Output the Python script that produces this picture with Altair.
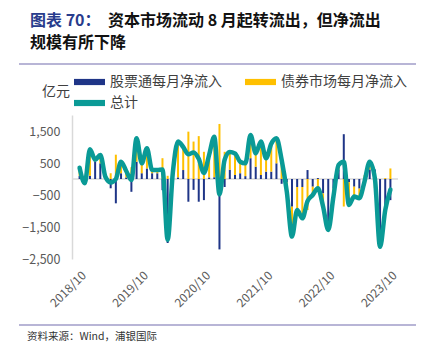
import altair as alt
import pandas as pd

FONT = "Noto Sans CJK SC"
NAVY = "#1F3587"
GOLD = "#FFC000"
TEAL = "#0A9A96"

STOCK = "股票通每月净流入"
BOND = "债券市场每月净流入"
TOTAL = "总计"

# monthly data, 2018/10 .. 2023/10 (61 months), 亿元
stock = [100, 40, 100, 550, 490, 30, -290, -760, 180, 50,
         -400, 540, 180, 330, 180, 180, -350, -2000, 0, 50,
         280, -710, -340, -710, -660, 50, 55, -2200, -250, 290,
         125, 180, 90, 650, 385, 125, 230, 230, 490, -150,
         -100, -865, -250, -250, 280, -240, 30, -450, -1390, -300,
         300, 1400, -100, -240, -300, -200, 300, 300, -1600, -1000,
         -660]
bond = [250, -170, 830, 50, 260, 30, 180, 760, 360, 200,
        370, 730, 310, 630, 100, 100, 650, 100, 200, 1120,
        720, 1480, 1170, 1340, 850, 700, 1265, 1720, 850, 550,
        675, 360, 400, 725, 415, 1045, 420, 870, 780, 750,
        -300, -935, -720, -980, -970, -260, -320, -410, -200, -250,
        140, -860, -710, -310, -300, 120, 240, -280, -520, 30,
        330]
total = [350, -130, 930, 600, 750, 60, -110, 0, 540, 250,
         -30, 1270, 490, 960, 280, 280, 300, -1900, 200, 1170,
         1000, 770, 830, 630, 190, 750, 1320, -480, 600, 840,
         800, 540, 490, 1375, 800, 1170, 650, 1100, 1270, 600,
         -400, -1800, -970, -1230, -690, -500, -290, -860, -1590, -550,
         440, 540, -810, -550, -600, -80, 540, 20, -2120, -970,
         -330]
tick_labels = ["2018/10", "2019/10", "2020/10", "2021/10", "2022/10", "2023/10"]
tick_idx = [0, 12, 24, 36, 48, 60]
y_ticks = [-2500, -1500, -500, 500, 1500]

rows = []
for i, (s, b) in enumerate(zip(stock, bond)):
    rows.append({"i": i, "series": STOCK, "value": s, "ord": 0})
    rows.append({"i": i, "series": BOND, "value": b, "ord": 1})
bars_df = pd.DataFrame(rows)
line_df = pd.DataFrame({"i": list(range(len(total))), "total": total})
dummy = pd.DataFrame({"a": [0]})

W, H = 326, 144
xscale = alt.Scale(domain=[-0.5, 60.5], nice=False, zero=False)
yscale = alt.Scale(domain=[-2500, 2000], nice=False, zero=False)

label_expr = "[" + ",".join("'%s'" % t for t in tick_labels) + "][round(datum.value/12)]"

XAXIS = alt.Axis(
    values=tick_idx, labelExpr=label_expr, labelAngle=-45, labelAlign="right",
    labelBaseline="middle", domain=False, ticks=False, grid=False, title=None,
    labelFont=FONT, labelFontSize=12, labelColor="#595959", labelPadding=14,
    labelOffset=4)
YAXIS = alt.Axis(
    values=y_ticks, format=",.0f", grid=False, ticks=False, title=None,
    domainColor="#D9D9D9", domainWidth=1.5, labelFont=FONT, labelFontSize=12.5,
    labelColor="#595959", labelPadding=12)

zero = alt.Chart(pd.DataFrame({"z": [0]})).mark_rule(color="#D9D9D9", strokeWidth=1.5).encode(
    y=alt.Y("z:Q", scale=yscale, axis=YAXIS, title=None)
)

bars = alt.Chart(bars_df).mark_bar(size=2).encode(
    x=alt.X("i:Q", scale=xscale, axis=XAXIS, title=None),
    y=alt.Y("value:Q", stack="zero", scale=yscale, axis=YAXIS, title=None),
    color=alt.Color("series:N", scale=alt.Scale(domain=[STOCK, BOND, TOTAL], range=[NAVY, GOLD, TEAL]),
                    legend=alt.Legend(orient="none", legendX=2, legendY=-41, columns=2,
                                      direction="horizontal",
                                      columnPadding=23, rowPadding=5, clipHeight=16,
                                      symbolType="M-1,-0.2H1V0.2H-1Z", symbolSize=961,
                                      symbolStrokeWidth=0, labelFont=FONT, labelFontSize=14,
                                      labelColor="#404040", labelOffset=5, labelLimit=220,
                                      title=None, padding=0)),
    order=alt.Order("ord:Q"),
)

line = alt.Chart(line_df).mark_line(color=TEAL, strokeWidth=4.5, interpolate="monotone",
                                    strokeCap="round", strokeJoin="round").encode(
    x=alt.X("i:Q", scale=xscale, axis=XAXIS, title=None),
    y=alt.Y("total:Q", scale=yscale, axis=YAXIS, title=None),
)


def txt(s, x, y, size, color, weight="normal", align="left"):
    return alt.Chart(dummy).mark_text(text=s, align=align, baseline="middle", fontSize=size,
                                      font=FONT, fontWeight=weight, color=color).encode(
        x=alt.value(x), y=alt.value(y))


def hrule(y):
    return alt.Chart(dummy).mark_rule(color="#A09CC8", strokeWidth=1.5).encode(
        x=alt.value(-53), x2=alt.value(348), y=alt.value(y))


decor = [
    txt("图表 70：", -42, -94, 16, "#283C8C", "bold"),
    txt("资本市场流动 8 月起转流出，但净流出", 36, -94, 16, "#111111", "bold"),
    txt("规模有所下降", -42, -72, 16, "#111111", "bold"),
    hrule(-51),
    txt("亿元", -2, -23, 14, "#404040", align="right"),
    hrule(210),
    txt("资料来源：Wind，浦银国际", -45, 222, 10.5, "#333333"),
]

chart = alt.layer(zero, bars, line, *decor).properties(
    width=W, height=H,
    padding={"left": 64, "top": 107, "right": 18, "bottom": 88},
    autosize=alt.AutoSizeParams(type="none"),
).configure_view(stroke=None)

chart.save("out.html", embed_options={"renderer": "svg", "actions": False})
